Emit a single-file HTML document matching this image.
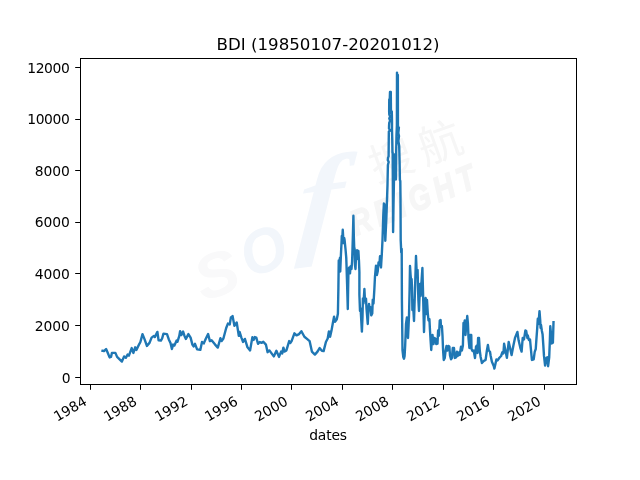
<!DOCTYPE html>
<html><head><meta charset="utf-8"><title>BDI</title>
<style>html,body{margin:0;padding:0;background:#fff;overflow:hidden}svg{display:block}</style>
</head><body>
<svg width="640" height="480" viewBox="0 0 640 480">
<rect width="640" height="480" fill="#ffffff"/>
<g font-family="Liberation Sans, Noto Sans CJK SC, sans-serif" font-style="italic" font-weight="bold">
<text transform="translate(216,274) rotate(-20) scale(1.05,1)" x="0" y="22" text-anchor="middle" font-size="62" fill="#f9f9fa">S</text>
<text transform="translate(263,250) rotate(-20) scale(0.95,1)" x="0" y="22" text-anchor="middle" font-size="62" fill="#f2f6fb">O</text>
<text transform="translate(318,240) rotate(-8) skewX(-12) scale(1.15,1)" x="0" y="0" text-anchor="middle" font-size="118" font-family="Liberation Serif, serif" font-weight="bold" fill="#f2f6fb">f</text>
<text transform="translate(356,236) rotate(-22) scale(0.8,1)" x="0" y="0" font-size="35" fill="#f6f6f6" stroke="#f6f6f6" stroke-width="1.6" letter-spacing="6.5">REIGHT</text>
<text transform="translate(376,183) rotate(-20)" x="0" y="0" font-size="44" fill="#f6f6f6" font-style="normal" font-weight="normal" letter-spacing="8">搜航</text>
</g>
<polyline points="102.5,350.8 104.0,351.1 106.1,349.0 107.5,352.2 109.6,357.4 111,356.9 111.9,352.9 115.4,352.9 117.1,356.9 121.9,361.6 124.1,356.4 125.9,357.8 127.6,354.6 128.9,355.7 131.7,348.1 133.4,352.9 135.2,347.3 136.4,349.9 139.4,343.8 140.4,342 142.5,334.1 144.6,339.4 146.9,345.9 149.5,342.9 151.6,337.6 153.9,335.9 154.8,337.1 157.4,331.9 158.6,340.3 160.9,340.6 162.1,338.5 163.5,333.6 167,334.1 168.8,339.4 170.5,342.9 171.9,349 173.1,344.6 174.4,345.5 176.6,340.6 177.5,341.7 179.3,335.9 180.1,331.2 181.4,335 183.1,331.5 184.5,335.9 185.9,338.9 188.4,334.1 190.6,337.6 192.4,344.6 193.6,346.4 195,343.8 197.1,349.4 200.3,349.9 202,342 203.8,343.4 205.9,338.5 208.1,334.1 209.9,341.1 211.6,340.3 215.1,344.6 217.8,347.6 220.4,338.2 221.6,341.1 223.4,338.5 226.2,328 227.9,323.6 229.7,324.5 230.9,317.5 232.6,316.1 234.4,325.9 236.7,322.4 238.8,335.9 239.6,331.9 241.4,337.6 243.1,342 244.9,338.9 247.5,347.3 250.1,350.4 252.4,337.1 253.6,339.9 254.9,337.1 256.3,337.6 258,343.8 259.8,342 261.5,342.9 263.3,341.7 265.9,344.6 267.6,352.2 269.4,350.4 273.8,356.4 276.4,350.8 279,356.9 281.1,351.6 282.2,353.4 283.4,347.6 284.6,351.6 286.4,350.4 289.2,341.1 290.4,342.9 291.6,341.1 294.4,333.3 296.5,335.4 299.1,334.1 301.4,331.2 304.4,336.8 307,338.9 309.6,341.1 311.9,351.6 314.9,354.6 317.5,351.6 319.6,348.1 321.9,350.8 323.6,351.1 325.9,342 327.7,338.5 328.9,331.5 330.1,336.8 331.5,330.6 332.9,322.8 334.1,316.6 335,321.9 336.8,319.3 337.9,313.75 338.4,287.5 338.75,260.5 339.3,262 340,257.75 340.25,271.5 340.9,255.25 341.5,243 341.8,236 342.3,238 342.75,229.8 343.2,237 343.0,243 343.6,238 344.2,238 344.6,240 345.5,249 346.25,257.75 346.5,265 347.1,284 347.8,309 348.1,290 348.4,274 349,267.75 350,273.4 350.5,266.5 351.5,269 352.1,261.5 352.5,249 352.9,235 353.4,215.8 353.8,235 354.2,247 354.6,249 355,265 355.5,269 356.25,251 357.1,250.25 357.75,259 358.4,251 359,261.5 359.4,272 359.4,294.75 360,311 360.6,308.5 361.9,331.6 362.5,317.25 362.9,298.5 363.5,303.5 364.4,289 365,301 366,298.5 366.5,308.5 367.75,324 368.5,308.5 369,304 369.75,309.75 370.4,307.25 371.25,315.4 372.25,313.5 372.75,299.75 373.5,303.5 374.4,288.5 375,276.25 376,265.6 376.9,275 377.75,271.25 378.5,262.5 379.4,265 380,256.25 381,267.5 381.9,252.5 382.5,240 383.3,215 383.9,203.5 384.4,204 385.3,240.8 385.9,228 386.4,217 387.0,200 387.5,185 387.9,165 388.7,162 387.8,160 388.05,157.5 388.6,156.5 388.75,140 388.85,131.5 390.2,130.5 389.0,128.5 389.1,125 389.3,122.5 390.1,121 389.3,118.5 390.1,116.5 389.3,114.5 389.15,112 389.25,99.5 389.7,101 390.0,92 390.4,95 390.8,91.9 390.95,110 391.4,113 391.8,111.5 392.0,122 392.0,130 392.3,141 392.45,153 392.65,152 392.8,175 393.1,232 393.5,205 394.0,178 394.6,154.5 395.0,158 395.5,174 395.9,179.5 396.1,165 396.2,150 396.5,135 396.9,125 397.0,72.6 397.4,82 397.85,74.9 397.95,125 398.3,128.5 398.9,127.5 398.3,133 399.0,136 398.35,141 399.2,146 399.3,150 399.6,162 399.9,180 400.3,181 400.5,200 400.7,240 401.25,252.5 401.7,249 401.9,300 402.5,350 403.3,357 404,358.75 404.6,356 405.2,345 406,324 406.9,317.5 407.4,326 408,338 408.6,325 409,316 409.6,290 410,266 410.5,274 411,280 411.6,279 412,287 412.4,310 413,300 413.5,312 414,321 414.5,305 415,290 415.6,270 416,256 416.5,268 417,277 417.6,270 418,286 418.4,300 419,311 419.5,298 420,284 420.6,296 421.1,288 421.6,280 422.4,268 422.7,280 423,291 423.5,312 424,332 424.4,320 425,308 425.6,298 426,306 426.4,314 427,300 427.75,313 428.5,320.5 429.4,319 430,330.5 430.6,340.5 431.25,350 431.9,339 432.5,335 433.5,344 434.4,338 435.6,339 436.25,344 437.5,343.6 438.1,330.5 438.6,336 439,335.5 439.75,320.5 440.6,320 441,326.75 441.9,326 442.5,335.5 443.1,350.5 443.75,360 444.75,358 445.6,350.5 446.5,346 447.5,350.5 448.5,346 449.4,346.75 450,355.5 451,359.25 451.9,358 452.75,348 454,348 454.75,358 456,357.4 456.9,351.75 457.75,356 458.75,352.4 459.75,355 461,346.75 461.9,350.5 462.9,345.5 463.5,323 464.2,323.5 464.75,320.5 465.1,330 465.5,335 465.9,330 466.5,324 467.25,316 467.9,323 468.5,338 469.4,348 470.25,335 471.25,335 471.5,349 472.5,351 473.75,350.5 475,358 476,346.75 476.9,345.5 477.5,353 478.1,338 479,338 479.75,350.5 480.6,356.75 481.9,363 483.75,361 485.6,359.9 486.9,350.5 487.9,344.9 488.75,350.5 490,351.75 490.6,355.5 491.9,361.75 493.75,366 494.4,368.6 496.4,359.5 497.6,360.4 499.4,357.8 501.1,356 502.4,352.2 503.4,353.4 504.1,343.8 505.5,350.8 506.9,357.8 508.7,342 509.9,347.3 511.6,355.1 513.4,345.5 515.1,337.6 517.4,331.9 518.6,340.3 520.4,348.1 521.6,351.6 522.7,338 524,339.4 525.4,330.4 526.2,331 526.8,334.6 527.4,338 527.8,335.5 528.9,340 530,339.4 530.9,349 531.9,360 533.7,359.3 534.7,351.8 535.75,349 536.4,339.4 537.1,329.8 537.8,318.75 538.3,324 538.8,320 539.5,311.2 540.2,320 540.6,328 541,325 541.9,331 542.6,334.6 543.3,344.9 544,355.9 545.1,365.5 546.5,358 547.4,357.3 548.1,366.2 549.2,357.3 549.9,339.4 550.3,326.3 550.9,332.5 551.6,343.5 552.9,342.8 553.5,322.2" fill="none" stroke="#1f77b4" stroke-width="2.4" stroke-linejoin="round" stroke-linecap="square"/>
<rect x="80.5" y="58.5" width="496" height="326" fill="none" stroke="#000" stroke-width="1"/>
<line x1="75.2" x2="80.5" y1="377.5" y2="377.5" stroke="#000" stroke-width="1"/>
<text x="70.6" y="382.8" text-anchor="end" font-size="13.89" letter-spacing="0" font-family="DejaVu Sans, Liberation Sans, sans-serif" fill="#000">0</text>
<line x1="75.2" x2="80.5" y1="325.5" y2="325.5" stroke="#000" stroke-width="1"/>
<text x="69.75" y="330.8" text-anchor="end" font-size="13.89" letter-spacing="-0.05" font-family="DejaVu Sans, Liberation Sans, sans-serif" fill="#000">2000</text>
<line x1="75.2" x2="80.5" y1="273.5" y2="273.5" stroke="#000" stroke-width="1"/>
<text x="69.75" y="278.8" text-anchor="end" font-size="13.89" letter-spacing="-0.05" font-family="DejaVu Sans, Liberation Sans, sans-serif" fill="#000">4000</text>
<line x1="75.2" x2="80.5" y1="222.5" y2="222.5" stroke="#000" stroke-width="1"/>
<text x="69.75" y="226.8" text-anchor="end" font-size="13.89" letter-spacing="-0.05" font-family="DejaVu Sans, Liberation Sans, sans-serif" fill="#000">6000</text>
<line x1="75.2" x2="80.5" y1="170.5" y2="170.5" stroke="#000" stroke-width="1"/>
<text x="69.75" y="175.8" text-anchor="end" font-size="13.89" letter-spacing="-0.05" font-family="DejaVu Sans, Liberation Sans, sans-serif" fill="#000">8000</text>
<line x1="75.2" x2="80.5" y1="119.5" y2="119.5" stroke="#000" stroke-width="1"/>
<text x="69.6" y="123.8" text-anchor="end" font-size="13.89" letter-spacing="-0.34" font-family="DejaVu Sans, Liberation Sans, sans-serif" fill="#000">10000</text>
<line x1="75.2" x2="80.5" y1="67.5" y2="67.5" stroke="#000" stroke-width="1"/>
<text x="69.6" y="72.8" text-anchor="end" font-size="13.89" letter-spacing="-0.34" font-family="DejaVu Sans, Liberation Sans, sans-serif" fill="#000">12000</text>
<line x1="90.5" x2="90.5" y1="384.5" y2="389.8" stroke="#000" stroke-width="1"/>
<text transform="translate(87.8,404.2) rotate(-30)" text-anchor="end" font-size="13.89" font-family="DejaVu Sans, Liberation Sans, sans-serif" fill="#000">1984</text>
<line x1="140.5" x2="140.5" y1="384.5" y2="389.8" stroke="#000" stroke-width="1"/>
<text transform="translate(137.8,404.2) rotate(-30)" text-anchor="end" font-size="13.89" font-family="DejaVu Sans, Liberation Sans, sans-serif" fill="#000">1988</text>
<line x1="191.5" x2="191.5" y1="384.5" y2="389.8" stroke="#000" stroke-width="1"/>
<text transform="translate(188.8,404.2) rotate(-30)" text-anchor="end" font-size="13.89" font-family="DejaVu Sans, Liberation Sans, sans-serif" fill="#000">1992</text>
<line x1="241.5" x2="241.5" y1="384.5" y2="389.8" stroke="#000" stroke-width="1"/>
<text transform="translate(238.8,404.2) rotate(-30)" text-anchor="end" font-size="13.89" font-family="DejaVu Sans, Liberation Sans, sans-serif" fill="#000">1996</text>
<line x1="291.5" x2="291.5" y1="384.5" y2="389.8" stroke="#000" stroke-width="1"/>
<text transform="translate(288.8,404.2) rotate(-30)" text-anchor="end" font-size="13.89" font-family="DejaVu Sans, Liberation Sans, sans-serif" fill="#000">2000</text>
<line x1="342.5" x2="342.5" y1="384.5" y2="389.8" stroke="#000" stroke-width="1"/>
<text transform="translate(339.8,404.2) rotate(-30)" text-anchor="end" font-size="13.89" font-family="DejaVu Sans, Liberation Sans, sans-serif" fill="#000">2004</text>
<line x1="392.5" x2="392.5" y1="384.5" y2="389.8" stroke="#000" stroke-width="1"/>
<text transform="translate(389.8,404.2) rotate(-30)" text-anchor="end" font-size="13.89" font-family="DejaVu Sans, Liberation Sans, sans-serif" fill="#000">2008</text>
<line x1="443.5" x2="443.5" y1="384.5" y2="389.8" stroke="#000" stroke-width="1"/>
<text transform="translate(440.8,404.2) rotate(-30)" text-anchor="end" font-size="13.89" font-family="DejaVu Sans, Liberation Sans, sans-serif" fill="#000">2012</text>
<line x1="493.5" x2="493.5" y1="384.5" y2="389.8" stroke="#000" stroke-width="1"/>
<text transform="translate(490.8,404.2) rotate(-30)" text-anchor="end" font-size="13.89" font-family="DejaVu Sans, Liberation Sans, sans-serif" fill="#000">2016</text>
<line x1="544.5" x2="544.5" y1="384.5" y2="389.8" stroke="#000" stroke-width="1"/>
<text transform="translate(541.8,404.2) rotate(-30)" text-anchor="end" font-size="13.89" font-family="DejaVu Sans, Liberation Sans, sans-serif" fill="#000">2020</text>
<text x="328" y="440" text-anchor="middle" font-size="13.89" letter-spacing="-0.2" font-family="DejaVu Sans, Liberation Sans, sans-serif" fill="#000">dates</text>
<text x="328" y="50" text-anchor="middle" font-size="16.67" font-family="DejaVu Sans, Liberation Sans, sans-serif" fill="#000">BDI (19850107-20201012)</text>
</svg></body></html>
